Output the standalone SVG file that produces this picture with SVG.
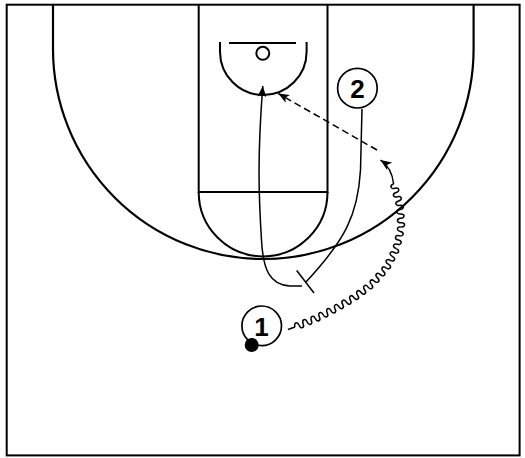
<svg xmlns="http://www.w3.org/2000/svg" xmlns:xlink="http://www.w3.org/1999/xlink" width="525" height="458" viewBox="0 0 525 458">
<style>
.court{fill:none;stroke:#000;stroke-width:2}
.path{fill:none;stroke:#000;stroke-width:1.5}
.player{fill:#fff;stroke:#000;stroke-width:1.7}
.num{font-family:"Liberation Sans",Arial,sans-serif;font-weight:bold;font-size:26px;text-anchor:middle;fill:#000}
</style>
<defs>
<marker id="ah" viewBox="0 0 11 9" refX="11" refY="4.5" markerWidth="11" markerHeight="9" markerUnits="userSpaceOnUse" orient="auto">
<path d="M0 0 L11 4.5 L0 9 L2.8 4.5 z" fill="#000"/>
</marker>
<path id="wU" class="path" d="M0 0 a2.2 3.4 0 0 1 4.4 0 a2.2 3.4 0 0 0 4.4 0 a2.2 3.4 0 0 1 4.4 0 a2.2 3.4 0 0 0 4.4 0 a2.2 3.4 0 0 1 4.4 0"/>
<path id="wD" class="path" d="M0 0 a2.2 3.4 0 0 0 4.4 0 a2.2 3.4 0 0 1 4.4 0 a2.2 3.4 0 0 0 4.4 0 a2.2 3.4 0 0 1 4.4 0 a2.2 3.4 0 0 0 4.4 0"/>
</defs>
<rect width="525" height="458" fill="#fff"/>
<g id="court" class="court">
<rect x="6.7" y="4.7" width="512.9" height="450.7"/>
<path d="M53 4.7 V48.7 A210.3 210.3 0 0 0 473.6 48.7 V4.7" stroke-width="2.2"/>
<path d="M198.7 4.7 V192 H327.5 V4.7"/>
<path d="M198.7 192 A64.4 64.4 0 0 0 327.5 192"/>
<path d="M220 42 V51.7 A43.3 43.3 0 0 0 306.6 51.7 V42"/>
<line x1="229" y1="43" x2="296" y2="43"/>
<circle cx="262.8" cy="53.3" r="6.5"/>
</g>
<g id="connectors">
<path id="cut" class="path" d="M302 286 L290 286 C270 285 263 270 261.5 240 C259 200 257 160 262.8 86" marker-end="url(#ah)"/>
<g id="screen">
<path class="path" d="M362 109 L360.5 170 C358 215 345 240 306 282"/>
<line class="path" x1="296.7" y1="270.5" x2="314" y2="293"/>
</g>
<path id="pass" class="path" d="M377 150 L278.3 93.5" stroke-dasharray="7 4" marker-end="url(#ah)"/>
<g id="dribble">
<path class="path" d="M288 329.5 L295 327"/>
<use xlink:href="#wU" transform="translate(295 327) rotate(-22.2)"/>
<use xlink:href="#wD" transform="translate(315.37 318.69) rotate(-26.5)"/>
<use xlink:href="#wU" transform="translate(335.06 308.87) rotate(-30.3)"/>
<use xlink:href="#wD" transform="translate(354.05 297.77) rotate(-37.2)"/>
<use xlink:href="#wU" transform="translate(371.57 284.47) rotate(-48)"/>
<use xlink:href="#wD" transform="translate(386.29 268.12) rotate(-62.8)"/>
<use xlink:href="#wU" transform="translate(396.35 248.55) rotate(-77)"/>
<use xlink:href="#wD" transform="translate(401.3 227.11) rotate(-93.8)"/>
<use xlink:href="#wU" transform="translate(399.84 205.16) rotate(-106.4)"/>
<path class="path" d="M393.63 184.06 Q392 168 380.5 160" marker-end="url(#ah)"/>
</g>
</g>
<g id="player2">
<circle class="player" cx="357.4" cy="88.2" r="19.8"/>
<text class="num" x="357.6" y="97.5">2</text>
</g>
<g id="player1">
<circle class="player" cx="261.7" cy="325.8" r="19.8"/>
<text class="num" x="261.4" y="335.6">1</text>
<circle cx="251.7" cy="345" r="7" fill="#000"/>
</g>
</svg>
